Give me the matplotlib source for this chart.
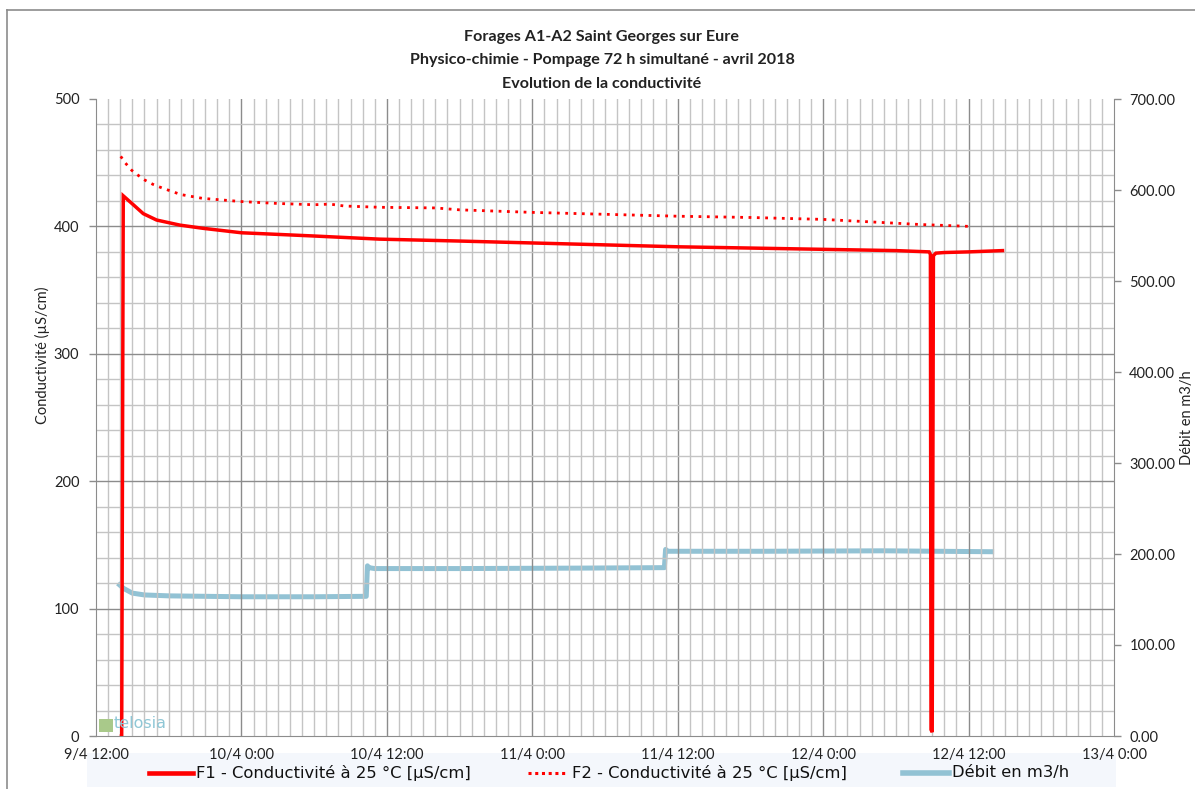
import matplotlib
matplotlib.use("Agg")
import matplotlib.pyplot as plt
from matplotlib.lines import Line2D
from matplotlib.patches import Rectangle
import numpy as np

# hours after 9/4 12:00
f1_t = [2.10, 2.12, 2.25, 3.08, 3.9, 5.0, 6.93, 8.83, 12.0, 17.9, 23.4, 30.0, 36.0,
        42.0, 48.0, 54.0, 60.0, 66.0, 68.75, 68.85, 68.9, 69.0, 69.1, 69.3, 70.0, 72.0, 74.8]
f1_v = [0, 0, 424, 417, 410, 405, 401, 398.5, 395, 392.5, 390, 388.5, 387,
        385.5, 384, 383, 382, 381, 380, 378, 5, 3, 377, 379, 379.5, 380, 381]

f2_t = [2.04, 2.4, 2.95, 3.9, 4.7, 5.5, 7.0, 8.8, 12.0, 15.0, 18.0, 19.3, 20.5, 23.4, 28.0,
        30.0, 36.0, 42.0, 48.0, 54.0, 60.0, 64.0, 66.0, 68.0, 72.1]
f2_v = [455, 450, 444, 437, 433, 430, 425, 422, 419.5, 418, 417, 417.5, 416, 415, 414.5,
        413, 411, 409.5, 408, 407, 405.5, 403.5, 402.5, 401.5, 400]

deb_t = [1.95, 2.3, 3.0, 4.0, 6.0, 12.0, 18.0, 22.3, 22.4, 22.5, 23.0, 30.0, 40.0, 46.9,
         47.0, 47.2, 55.0, 65.0, 73.9]
deb_v = [166, 162, 157, 155, 154, 153, 153, 153.5, 187, 185, 184, 184, 184.5, 185,
         205, 203, 203, 203.5, 202.5]

x_labels = ["9/4 12:00", "10/4 0:00", "10/4 12:00", "11/4 0:00", "11/4 12:00",
            "12/4 0:00", "12/4 12:00", "13/4 0:00"]
title_lines = ["Forages A1-A2 Saint Georges sur Eure",
               "Physico-chimie - Pompage 72 h simultané - avril 2018",
               "Evolution de la conductivité"]

W, H = 1195, 789
fig = plt.figure(figsize=(W / 100, H / 100), dpi=100)
ax = fig.add_axes([96 / W, 1 - 736 / H, (1114 - 96) / W, (736 - 99) / H])
ax2 = ax.twinx()

tickfont = "Lato"
ax.set_xlim(0, 84)
ax.set_ylim(0, 500)
ax2.set_ylim(0, 700)

# grid
minor_c = "#c4c4c4"
major_c = "#8c8c8c"
for h in range(1, 84):
    ax.axvline(h, color=major_c if h % 12 == 0 else minor_c, lw=1.0, zorder=0)
for v in range(20, 500, 20):
    ax.axhline(v, color=major_c if v % 100 == 0 else minor_c, lw=1.0, zorder=0)

ax.plot(f1_t, f1_v, color="#ff0000", lw=2.5, zorder=3, solid_joinstyle="miter")
ax.plot(f2_t, f2_v, color="#ff0000", lw=2.0, linestyle=(0, (1, 2.0)), zorder=3)
ax2.plot(deb_t, deb_v, color="#92c2d4", lw=3.6, zorder=2)

ax.set_zorder(ax2.get_zorder() + 1)
ax.patch.set_visible(False)

ax.set_xticks(np.arange(0, 85, 12))
ax.set_xticklabels(x_labels, fontsize=10.5, family=tickfont, color="#222222")
ax.tick_params(axis="x", length=0, pad=9)
ax.set_yticks(np.arange(0, 501, 100))
ax.set_yticklabels([str(v) for v in range(0, 501, 100)], fontsize=10.5, family=tickfont,
                   color="#222222")
ax.tick_params(axis="y", length=5, width=1, color=major_c, pad=7, direction="out")
ax2.set_yticks(np.arange(0, 701, 100))
ax2.set_yticklabels(["%.2f" % v for v in range(0, 701, 100)], fontsize=10.5,
                    family=tickfont, color="#222222")
ax2.tick_params(axis="y", length=5, width=1, color=major_c, pad=6, direction="out")

for a in (ax, ax2):
    for s in a.spines.values():
        s.set_visible(False)
ax.spines["left"].set_visible(True)
ax.spines["left"].set_color(major_c)
ax.spines["bottom"].set_visible(True)
ax.spines["bottom"].set_color(major_c)
ax2.spines["right"].set_visible(True)
ax2.spines["right"].set_color(major_c)

fig.text(42 / W, 1 - 355 / H, "Conductivité (µS/cm)", rotation=90, ha="center",
         va="center", fontsize=10.5, family=tickfont, color="#222222")
fig.text(1187 / W, 1 - 418 / H, "Débit en m3/h", rotation=90, ha="center",
         va="center", fontsize=10.5, family=tickfont, color="#222222")

for i, (t, y) in enumerate(zip(title_lines, [37, 60, 84])):
    fig.text(602 / W, 1 - y / H, t, ha="center", va="center", fontsize=11.6,
             fontweight="bold", family=tickfont, color="#222222")

# legend band
fig.patches.append(Rectangle((87 / W, 1 - 787 / H), (1116 - 87) / W, 34 / H,
                             transform=fig.transFigure, facecolor="#f4f7fc",
                             edgecolor="none", zorder=0))
leg_y = 1 - 773 / H
legend_items = [
    (149, 193, "-", 3.3, "#ff0000", "F1 - Conductivité à 25 °C [µS/cm]", 196),
    (528, 566, (0, (1, 1.2)), 2.2, "#ff0000", "F2 - Conductivité à 25 °C [µS/cm]", 572),
    (903, 949, "-", 4.0, "#92c2d4", "Débit en m3/h", 952),
]
for x0, x1, ls, lw, c, lab, tx in legend_items:
    fig.add_artist(Line2D([x0 / W, x1 / W], [leg_y, leg_y], transform=fig.transFigure,
                          color=c, lw=lw, linestyle=ls))
    fig.text(tx / W, leg_y, lab, ha="left", va="center", fontsize=11.8,
             family="DejaVu Sans", color="#111111")

# outer frame (top & left)
fig.add_artist(Line2D([7 / W, 1], [1 - 10 / H, 1 - 10 / H], transform=fig.transFigure,
                      color="#8c8c8c", lw=1.2))
fig.add_artist(Line2D([7 / W, 7 / W], [0, 1 - 10 / H], transform=fig.transFigure,
                      color="#8c8c8c", lw=1.2))

# logo
fig.patches.append(Rectangle((99 / W, 1 - 732 / H), 14 / W, 13 / H,
                             transform=fig.transFigure, facecolor="#a9c98a",
                             edgecolor="none", zorder=5))
fig.text(114 / W, 1 - 724 / H, "telosia", ha="left", va="center", fontsize=11.5,
         family="DejaVu Sans", color="#8fc7d6", zorder=6)

fig.savefig("out.png", dpi=100)
